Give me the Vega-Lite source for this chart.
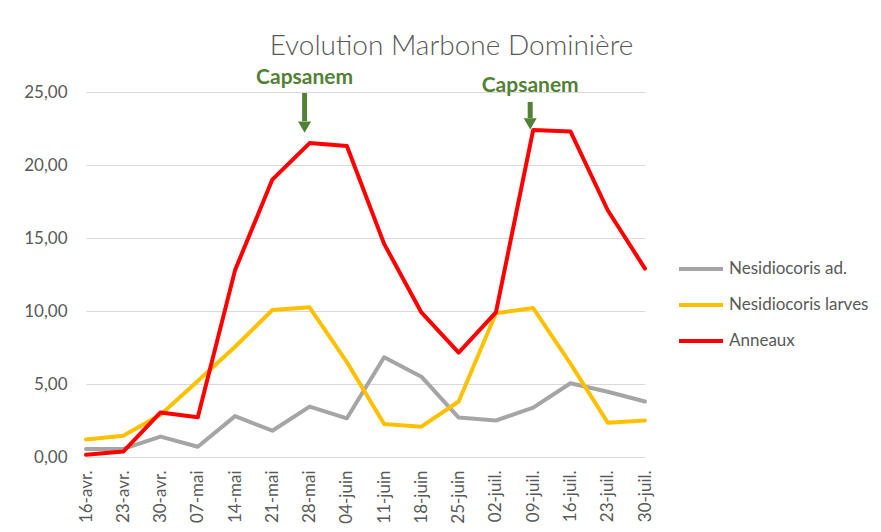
{
  "$schema": "https://vega.github.io/schema/vega-lite/v6.json",
  "width": 559,
  "height": 365,
  "autosize": {"type": "none"},
  "padding": {"left": 86, "top": 92, "right": 236, "bottom": 75},
  "background": "white",
  "config": {
    "view": {"stroke": null},
    "font": "Lato"
  },
  "title": {
    "text": "Evolution Marbone Dominière",
    "font": "Lato",
    "fontSize": 28,
    "fontWeight": 300,
    "color": "#595959",
    "anchor": "middle",
    "frame": "group",
    "dx": 86,
    "baseline": "alphabetic",
    "offset": -16
  },
  "datasets": {
    "series": [
      {"date": "16-avr.", "series": "Nesidiocoris ad.", "value": 0.55},
      {"date": "23-avr.", "series": "Nesidiocoris ad.", "value": 0.55},
      {"date": "30-avr.", "series": "Nesidiocoris ad.", "value": 1.4},
      {"date": "07-mai", "series": "Nesidiocoris ad.", "value": 0.7},
      {"date": "14-mai", "series": "Nesidiocoris ad.", "value": 2.8},
      {"date": "21-mai", "series": "Nesidiocoris ad.", "value": 1.8},
      {"date": "28-mai", "series": "Nesidiocoris ad.", "value": 3.45},
      {"date": "04-juin", "series": "Nesidiocoris ad.", "value": 2.65},
      {"date": "11-juin", "series": "Nesidiocoris ad.", "value": 6.83},
      {"date": "18-juin", "series": "Nesidiocoris ad.", "value": 5.5},
      {"date": "25-juin", "series": "Nesidiocoris ad.", "value": 2.7},
      {"date": "02-juil.", "series": "Nesidiocoris ad.", "value": 2.5},
      {"date": "09-juil.", "series": "Nesidiocoris ad.", "value": 3.38},
      {"date": "16-juil.", "series": "Nesidiocoris ad.", "value": 5.05},
      {"date": "23-juil.", "series": "Nesidiocoris ad.", "value": 4.47},
      {"date": "30-juil.", "series": "Nesidiocoris ad.", "value": 3.8},
      {"date": "16-avr.", "series": "Nesidiocoris larves", "value": 1.2},
      {"date": "23-avr.", "series": "Nesidiocoris larves", "value": 1.45},
      {"date": "30-avr.", "series": "Nesidiocoris larves", "value": 2.9},
      {"date": "07-mai", "series": "Nesidiocoris larves", "value": 5.2},
      {"date": "14-mai", "series": "Nesidiocoris larves", "value": 7.55},
      {"date": "21-mai", "series": "Nesidiocoris larves", "value": 10.07},
      {"date": "28-mai", "series": "Nesidiocoris larves", "value": 10.25},
      {"date": "04-juin", "series": "Nesidiocoris larves", "value": 6.5},
      {"date": "11-juin", "series": "Nesidiocoris larves", "value": 2.26},
      {"date": "18-juin", "series": "Nesidiocoris larves", "value": 2.08},
      {"date": "25-juin", "series": "Nesidiocoris larves", "value": 3.8},
      {"date": "02-juil.", "series": "Nesidiocoris larves", "value": 9.85},
      {"date": "09-juil.", "series": "Nesidiocoris larves", "value": 10.2},
      {"date": "16-juil.", "series": "Nesidiocoris larves", "value": 6.4},
      {"date": "23-juil.", "series": "Nesidiocoris larves", "value": 2.35},
      {"date": "30-juil.", "series": "Nesidiocoris larves", "value": 2.5},
      {"date": "16-avr.", "series": "Anneaux", "value": 0.15},
      {"date": "23-avr.", "series": "Anneaux", "value": 0.37},
      {"date": "30-avr.", "series": "Anneaux", "value": 3.05},
      {"date": "07-mai", "series": "Anneaux", "value": 2.72},
      {"date": "14-mai", "series": "Anneaux", "value": 12.8},
      {"date": "21-mai", "series": "Anneaux", "value": 19.0},
      {"date": "28-mai", "series": "Anneaux", "value": 21.5},
      {"date": "04-juin", "series": "Anneaux", "value": 21.3},
      {"date": "11-juin", "series": "Anneaux", "value": 14.6},
      {"date": "18-juin", "series": "Anneaux", "value": 9.9},
      {"date": "25-juin", "series": "Anneaux", "value": 7.15},
      {"date": "02-juil.", "series": "Anneaux", "value": 9.9},
      {"date": "09-juil.", "series": "Anneaux", "value": 22.4},
      {"date": "16-juil.", "series": "Anneaux", "value": 22.3},
      {"date": "23-juil.", "series": "Anneaux", "value": 16.9},
      {"date": "30-juil.", "series": "Anneaux", "value": 12.9}
    ],
    "notes": [
      {"date": "28-mai", "label": "Capsanem", "textY": 25.94, "top": 24.93, "bottom": 23.01, "head": 22.6, "shift": -5},
      {"date": "09-juil.", "label": "Capsanem", "textY": 25.41, "top": 24.32, "bottom": 23.22, "head": 22.81, "shift": -3}
    ]
  },
  "layer": [
    {
      "data": {"name": "series"},
      "mark": {"type": "line", "strokeWidth": 4, "strokeCap": "round", "strokeJoin": "round"},
      "encoding": {
        "x": {
          "field": "date", "type": "ordinal",
          "sort": ["16-avr.", "23-avr.", "30-avr.", "07-mai", "14-mai", "21-mai", "28-mai", "04-juin", "11-juin", "18-juin", "25-juin", "02-juil.", "09-juil.", "16-juil.", "23-juil.", "30-juil."],
          "scale": {"type": "point", "padding": 0},
          "axis": {
            "title": null, "labelAngle": -90, "labelFontSize": 17, "labelColor": "#595959",
            "labelFont": "Lato", "ticks": false, "domain": false, "grid": false, "labelPadding": 13
          }
        },
        "y": {
          "field": "value", "type": "quantitative",
          "scale": {"domain": [0, 25], "nice": false},
          "axis": {
            "title": null, "values": [0, 5, 10, 15, 20, 25], "labelExpr": "replace(format(datum.value, '.2f'), '.', ',')",
            "labelFontSize": 17, "labelColor": "#595959", "labelFont": "Lato",
            "ticks": false, "domain": false, "gridColor": "#d9d9d9", "gridWidth": 1, "labelPadding": 19
          }
        },
        "color": {
          "field": "series", "type": "nominal",
          "scale": {"domain": ["Nesidiocoris ad.", "Nesidiocoris larves", "Anneaux"], "range": ["#A5A5A5", "#FFC000", "#FF0000"]},
          "legend": {
            "title": null, "orient": "none", "legendX": 591, "legendY": 153,
            "symbolType": "stroke", "symbolSize": 1936, "symbolStrokeWidth": 4,
            "labelFontSize": 17, "labelColor": "#595959", "labelFont": "Lato", "labelOffset": 4, "rowPadding": 4
          }
        }
      }
    },
    {
      "data": {"name": "notes"},
      "mark": {"type": "rule", "color": "#538135", "strokeWidth": 5},
      "encoding": {
        "x": {"field": "date", "type": "ordinal", "sort": ["16-avr.", "23-avr.", "30-avr.", "07-mai", "14-mai", "21-mai", "28-mai", "04-juin", "11-juin", "18-juin", "25-juin", "02-juil.", "09-juil.", "16-juil.", "23-juil.", "30-juil."]},
        "xOffset": {"field": "shift", "type": "quantitative", "scale": null},
        "y": {"field": "top", "type": "quantitative"},
        "y2": {"field": "bottom"}
      }
    },
    {
      "data": {"name": "notes"},
      "mark": {"type": "point", "shape": "triangle-down", "filled": true, "opacity": 1, "color": "#538135", "size": 170},
      "encoding": {
        "x": {"field": "date", "type": "ordinal", "sort": ["16-avr.", "23-avr.", "30-avr.", "07-mai", "14-mai", "21-mai", "28-mai", "04-juin", "11-juin", "18-juin", "25-juin", "02-juil.", "09-juil.", "16-juil.", "23-juil.", "30-juil."]},
        "xOffset": {"field": "shift", "type": "quantitative", "scale": null},
        "y": {"field": "head", "type": "quantitative"}
      }
    },
    {
      "data": {"name": "notes"},
      "mark": {"type": "text", "color": "#538135", "font": "Lato", "fontWeight": "bold", "fontSize": 21, "align": "center", "baseline": "middle"},
      "encoding": {
        "x": {"field": "date", "type": "ordinal", "sort": ["16-avr.", "23-avr.", "30-avr.", "07-mai", "14-mai", "21-mai", "28-mai", "04-juin", "11-juin", "18-juin", "25-juin", "02-juil.", "09-juil.", "16-juil.", "23-juil.", "30-juil."]},
        "xOffset": {"field": "shift", "type": "quantitative", "scale": null},
        "y": {"field": "textY", "type": "quantitative"},
        "text": {"field": "label"}
      }
    }
  ]
}
